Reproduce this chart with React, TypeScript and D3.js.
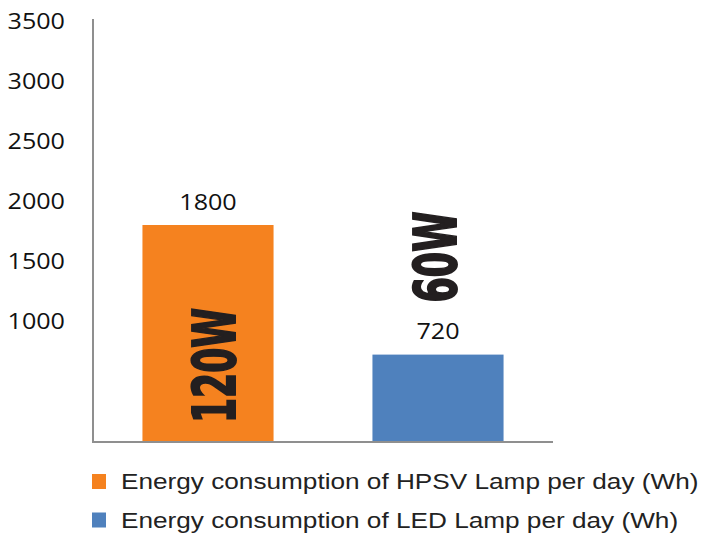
import * as d3 from "d3";

const categories = ["HPSV", "LED"];
const values = [1800, 720];
const wattLabels = ["120W", "60W"];
const legendLabels = [
  "Energy consumption of HPSV Lamp per day (Wh)",
  "Energy consumption of LED Lamp per day (Wh)",
];
const yTicks = [1000, 1500, 2000, 2500, 3000, 3500];

const COLORS = ["#F5821F", "#4F81BD"];
const W = 702;
const H = 537;
const STRETCH = 1.17; // the picture is a bit wide, so glyphs are too

export default function App() {
  const x = d3.scaleBand().domain(categories).range([93, 553]).paddingInner(0.43).paddingOuter(0.215);
  const y = d3.scaleLinear().domain([0, 3500]).range([441, 21]);

  // where the big wattage stamps sit (bottom end, since they read upward)
  const stampBottom = [y(0) - 18, y(values[1]) - 52];
  const stampDx = [6.5, -2.5];
  const stampLen = [115, 91];

  return (
    <svg
      width={W}
      height={H}
      style={{ position: "absolute", left: 0, top: 0, background: "#fff" }}
    >
      {/* bars */}
      {categories.map((c, i) => (
        <rect
          key={c}
          x={x(c)}
          y={y(values[i])}
          width={x.bandwidth()}
          height={y(0) - y(values[i])}
          fill={COLORS[i]}
        />
      ))}

      {/* axes */}
      <line x1={93} x2={93} y1={y(3500) - 2} y2={y(0)} stroke="#8f8f8f" strokeWidth={2} />
      <line x1={92} x2={553} y1={y(0) + 1} y2={y(0) + 1} stroke="#8f8f8f" strokeWidth={2} />

      {yTicks.map((t) => (
        <text
          key={t}
          transform={`translate(65,${y(t)}) scale(${STRETCH},1)`}
          textAnchor="end"
          dy="0.36em"
          fontFamily="'Open Sans', sans-serif"
          fontSize={21.5}
          fill="#111"
        >
          {t}
        </text>
      ))}

      {/* value labels */}
      {categories.map((c, i) => (
        <text
          key={c}
          transform={`translate(${x(c)! + x.bandwidth() / 2},${y(values[i]) - 15.5}) scale(${STRETCH},1)`}
          textAnchor="middle"
          fontFamily="'Open Sans', sans-serif"
          fontSize={21.5}
          fill="#111"
        >
          {values[i]}
        </text>
      ))}

      {/* wattage stamps */}
      {categories.map((c, i) => (
        <text
          key={c}
          transform={`translate(${x(c)! + x.bandwidth() / 2 + stampDx[i]},${stampBottom[i]}) rotate(-90)`}
          textAnchor="start"
          dy="0.36em"
          fontFamily="'Liberation Sans Narrow', 'DejaVu Sans Condensed', sans-serif"
          fontWeight="bold"
          fontSize={58}
          textLength={stampLen[i]}
          lengthAdjust="spacingAndGlyphs"
          fill="#231f20"
          stroke="#231f20"
          strokeWidth={2}
        >
          {wattLabels[i]}
        </text>
      ))}

      {/* legend */}
      {legendLabels.map((l, i) => (
        <g key={l} transform={`translate(92,${474 + i * 38.5})`}>
          <rect width={14} height={15} fill={COLORS[i]} />
          <text
            transform={`translate(29,15) scale(1.19,1)`}
            fontFamily="'Liberation Sans', Arial, sans-serif"
            fontSize={22}
            fill="#222"
          >
            {l}
          </text>
        </g>
      ))}
    </svg>
  );
}
